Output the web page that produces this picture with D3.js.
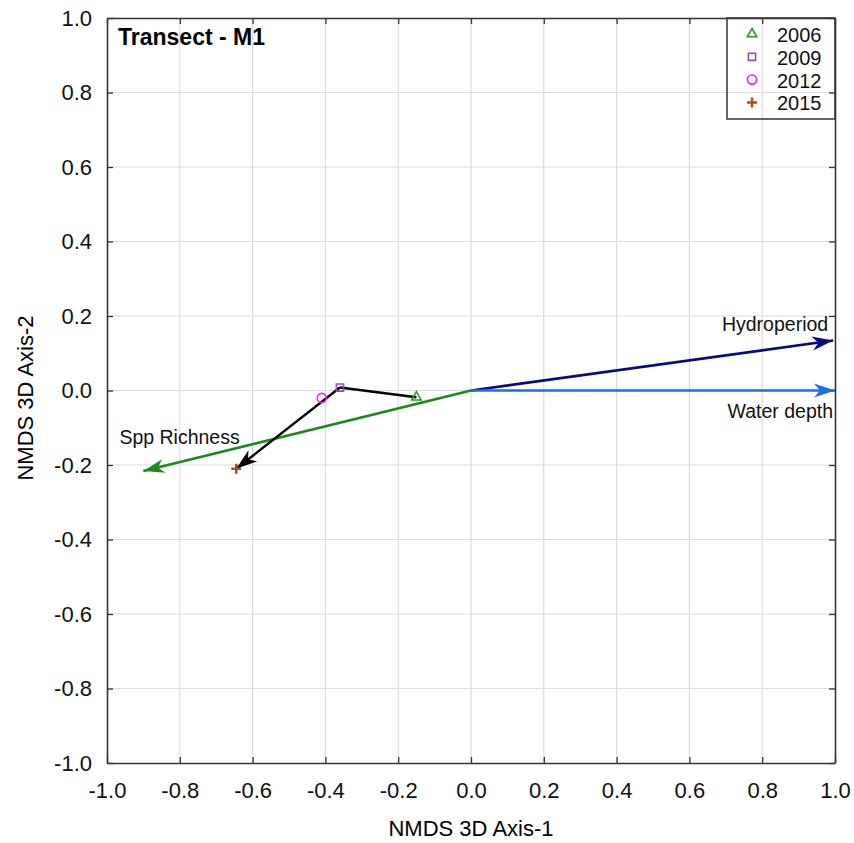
<!DOCTYPE html>
<html>
<head>
<meta charset="utf-8">
<script src="https://cdn.jsdelivr.net/npm/d3@7"></script>
<style>
  body { margin: 0; background: #fff; }
  svg { display: block; font-family: "Liberation Sans", Arial, sans-serif; }
  .grid line { stroke: #dcdcdc; stroke-width: 1.2; }
  .axis path.domain { stroke: #333; stroke-width: 1.6; }
  .axis line { stroke: #333; stroke-width: 1.3; }
  .axis text { font-size: 22px; fill: #111; }
</style>
</head>
<body>
<div id="chart"></div>
<script>
const width = 854;
const height = 843;

// sample scores per year (NMDS axis 1 / axis 2)
const years = ["2006", "2009", "2012", "2015"];
const scoreX = [-0.15, -0.36, -0.41, -0.645];
const scoreY = [-0.018, 0.008, -0.02, -0.21];
const yearColors = ["#2a9a2a", "#8a4fc0", "#f01ef0", "#a3501a"];
const yearSymbols = ["triangle", "square", "circle", "plus"];

// order of the drawn trajectory
const trajectory = ["2006", "2009", "2015"];

// environmental vectors
const vectorNames = ["Hydroperiod", "Water depth", "Spp Richness"];
const vectorX = [0.995, 1.0, -0.9];
const vectorY = [0.134, 0.0, -0.216];
const vectorColors = ["#0a0a80", "#1a6ee6", "#1b8a1b"];

const majorTicks = d3.range(-10, 11, 2).map(d => d / 10);
const minorTicks = d3.range(-9, 10, 2).map(d => d / 10);

const plot = { left: 107, right: 835, top: 18, bottom: 763 };

const x = d3.scaleLinear().domain([-1, 1]).range([plot.left, plot.right]);
const y = d3.scaleLinear().domain([-1, 1]).range([plot.bottom, plot.top]);

const svg = d3.select("#chart")
  .append("svg")
  .attr("width", width)
  .attr("height", height);

const defs = svg.append("defs");
function arrowMarker(id, color) {
  defs.append("marker")
    .attr("id", id)
    .attr("viewBox", "-22 -8 24 16")
    .attr("refX", 0)
    .attr("refY", 0)
    .attr("markerUnits", "userSpaceOnUse")
    .attr("markerWidth", 24)
    .attr("markerHeight", 16)
    .attr("orient", "auto")
    .append("path")
    .attr("d", "M0,0 L-21,-7 L-15,0 L-21,7 Z")
    .attr("fill", color);
}
vectorColors.forEach((c, i) => arrowMarker("arrow" + i, c));
arrowMarker("arrowTraj", "#000");

// gridlines
const grid = svg.append("g").attr("class", "grid");
grid.selectAll(".gx")
  .data(majorTicks.slice(1, -1))
  .join("line")
  .attr("x1", d => x(d)).attr("x2", d => x(d))
  .attr("y1", plot.top).attr("y2", plot.bottom);
grid.selectAll(".gy")
  .data(majorTicks.slice(1, -1))
  .join("line")
  .attr("y1", d => y(d)).attr("y2", d => y(d))
  .attr("x1", plot.left).attr("x2", plot.right);

// axes on all four sides, ticks pointing inward
const fmt = d => d3.format(".1f")(d).replace("\u2212", "-");
function drawAxis(axisFn, scale, transform, labels) {
  const g = svg.append("g").attr("class", "axis").attr("transform", transform);
  g.call(axisFn(scale).tickValues(minorTicks).tickSize(-3.5).tickFormat(""));
  g.call(axisFn(scale).tickValues(majorTicks).tickSize(-6).tickSizeOuter(0)
    .tickPadding(labels ? (axisFn === d3.axisBottom ? 19 : 15) : 0)
    .tickFormat(labels ? fmt : ""));
  return g;
}
drawAxis(d3.axisBottom, x, `translate(0,${plot.bottom})`, true);
drawAxis(d3.axisTop, x, `translate(0,${plot.top})`, false);
drawAxis(d3.axisLeft, y, `translate(${plot.left},0)`, true);
drawAxis(d3.axisRight, y, `translate(${plot.right},0)`, false);

// axis titles
svg.append("text")
  .attr("x", (plot.left + plot.right) / 2)
  .attr("y", 836)
  .attr("text-anchor", "middle")
  .style("font-size", "22px")
  .text("NMDS 3D Axis-1");

svg.append("text")
  .attr("transform", "translate(33,398) rotate(-90)")
  .attr("text-anchor", "middle")
  .style("font-size", "22px")
  .text("NMDS 3D Axis-2");

// chart title
svg.append("text")
  .attr("x", 118)
  .attr("y", 45)
  .style("font-size", "23px")
  .style("font-weight", "bold")
  .text("Transect - M1");

// environmental vectors
const vectors = vectorNames.map((name, i) => ({ name, vx: vectorX[i], vy: vectorY[i], color: vectorColors[i], i }));

svg.append("g")
  .selectAll("line")
  .data(vectors)
  .join("line")
  .attr("x1", x(0)).attr("y1", y(0))
  .attr("x2", d => x(d.vx)).attr("y2", d => y(d.vy))
  .attr("stroke", d => d.color)
  .attr("stroke-width", 2.6)
  .attr("marker-end", d => `url(#arrow${d.i})`);

const labelPos = {
  "Hydroperiod": { dx: -5, dy: -10, anchor: "end" },
  "Water depth": { dx: -2, dy: 27, anchor: "end" },
  "Spp Richness": { dx: -24, dy: -27, anchor: "start" }
};
svg.append("g")
  .selectAll("text")
  .data(vectors)
  .join("text")
  .attr("x", d => x(d.vx) + labelPos[d.name].dx)
  .attr("y", d => y(d.vy) + labelPos[d.name].dy)
  .attr("text-anchor", d => labelPos[d.name].anchor)
  .style("font-size", "19.5px")
  .attr("fill", "#111")
  .text(d => d.name);

// sample points
const samples = years.map((year, i) => ({ year, sx: scoreX[i], sy: scoreY[i], color: yearColors[i], symbol: yearSymbols[i] }));
const byYear = new Map(samples.map(d => [d.year, d]));

// trajectory: plain segments, arrow on last one
const trajPts = trajectory.map(yr => byYear.get(yr));
const trajG = svg.append("g");
trajPts.slice(1).forEach((p, i) => {
  const a = trajPts[i];
  trajG.append("line")
    .attr("x1", x(a.sx)).attr("y1", y(a.sy))
    .attr("x2", x(p.sx)).attr("y2", y(p.sy))
    .attr("stroke", "#000")
    .attr("stroke-width", 2.4)
    .attr("marker-end", i === trajPts.length - 2 ? "url(#arrowTraj)" : null);
});

const symbolTypes = {
  triangle: d3.symbolTriangle2,
  square: d3.symbolSquare2,
  circle: d3.symbolCircle,
  plus: d3.symbolCross
};
function drawSymbol(sel, d, size) {
  if (d.symbol === "plus") {
    sel.append("path")
      .attr("d", "M-5,0H5M0,-5V5")
      .attr("stroke", d.color)
      .attr("stroke-width", 2.5)
      .attr("fill", "none");
  } else {
    sel.append("path")
      .attr("d", d3.symbol(symbolTypes[d.symbol], size)())
      .attr("fill", "none")
      .attr("stroke", d.color)
      .attr("stroke-width", 1.6);
  }
}

svg.append("g")
  .selectAll("g")
  .data(samples)
  .join("g")
  .attr("transform", d => `translate(${x(d.sx)},${y(d.sy)})`)
  .each(function(d) { drawSymbol(d3.select(this), d, 65); });

// legend
const legend = svg.append("g");
legend.append("rect")
  .attr("x", 727).attr("y", plot.top)
  .attr("width", plot.right - 727).attr("height", 101)
  .attr("fill", "none")
  .attr("stroke", "#333")
  .attr("stroke-width", 1.5);

const rows = legend.selectAll(".row")
  .data(samples)
  .join("g")
  .attr("transform", (d, i) => `translate(752,${34 + i * 22.8})`);
rows.each(function(d) { drawSymbol(d3.select(this), d, 65); });
rows.append("text")
  .attr("x", 25)
  .attr("y", 8)
  .style("font-size", "20px")
  .attr("fill", "#111")
  .text(d => d.year);
</script>
</body>
</html>
